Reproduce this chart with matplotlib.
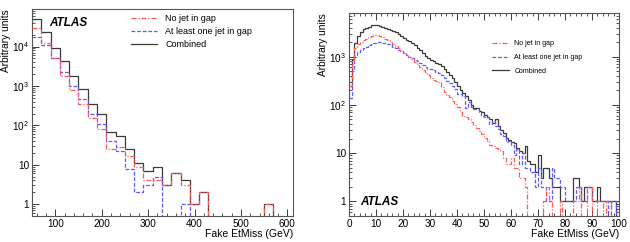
"""Fake EtMiss distributions, fine and coarse binning, ATLAS style."""

import numpy as np
import matplotlib
matplotlib.use("Agg")
import matplotlib.pyplot as plt
from matplotlib.ticker import FixedLocator, FuncFormatter, LogLocator, MultipleLocator, NullFormatter

plt.rcParams["font.family"] = ["Liberation Sans", "DejaVu Sans"]
plt.rcParams["mathtext.default"] = "regular"

labels = ["No jet in gap", "At least one jet in gap", "Combined"]

# left panel: 20 GeV bins from 50 to 610
left_edges = np.arange(50, 611, 20)
left_nojet = [30000, 12600, 5100, 1800, 770, 340, 150, 81, 25, 29, 17, 9, 4, 4,
              3, 6, 3, 1, 2, 0, 0, 0, 0, 0, 0, 1, 0, 0]
left_onejet = [18000, 10800, 5200, 2300, 1000, 480, 195, 110, 39, 22, 8, 2, 3, 5,
               0, 0, 1, 0, 0, 0, 0, 0, 0, 0, 0, 0, 0, 0]
left_comb = [50000, 23000, 9000, 4200, 1800, 820, 350, 195, 66, 55, 25, 11, 7, 9,
             3, 6, 4, 1, 2, 0, 0, 0, 0, 0, 0, 1, 0, 0]

# right panel: 1 GeV bins from 0 to 100
right_edges = np.arange(0, 101, 1)
right_nojet = [250, 850, 1500, 1850, 2000, 2250, 2370, 2570, 2700, 2770,
               2770, 2680, 2520, 2370, 2180, 2050, 1850, 1650, 1500, 1350,
               1200, 1100, 1000, 880, 780, 680, 600, 540, 470, 410,
               360, 330, 310, 295, 234, 183, 160, 144, 123, 105,
               89, 70, 60, 55, 51, 44, 38, 34, 29, 25,
               21, 18, 15, 14, 13, 12, 11, 8, 6, 6,
               8, 5, 5, 3, 3, 2, 0, 0, 0, 0,
               0, 0, 1, 2, 1, 0, 0, 0, 1, 0,
               0, 0, 0, 1, 1, 2, 0, 0, 2, 2,
               0, 0, 1, 1, 0, 1, 1, 0, 0, 0]
right_onejet = [140, 500, 1100, 1250, 1350, 1500, 1600, 1750, 1850, 1950,
                2000, 2000, 1950, 1900, 1800, 1700, 1600, 1500, 1400, 1300,
                1200, 1100, 1000, 920, 870, 800, 730, 680, 620, 560,
                560, 520, 490, 450, 410, 365, 320, 290, 245, 215,
                170, 170, 150, 85, 113, 89, 83, 83, 70, 60,
                55, 57, 40, 47, 37, 32, 25, 23, 17, 18,
                15, 9, 12, 6, 10, 5, 5, 4, 4, 2,
                5, 2, 2, 1, 1, 5, 3, 3, 2, 2,
                1, 1, 1, 1, 2, 2, 1, 1, 2, 2,
                1, 1, 1, 1, 1, 1, 0, 1, 1, 0]
right_comb = [250, 900, 1900, 2700, 3300, 3700, 4000, 4200, 4450, 4500,
              4450, 4300, 4100, 3900, 3800, 3600, 3350, 3200, 3000, 2700,
              2450, 2250, 2080, 1900, 1700, 1500, 1350, 1200, 1050, 940,
              860, 800, 750, 700, 640, 560, 480, 410, 360, 300,
              250, 205, 175, 150, 125, 100, 85, 85, 76, 70,
              62, 56, 51, 42, 52, 36, 30, 26, 21, 19,
              17, 16, 13, 11, 10, 14, 7, 6, 6, 4,
              9, 3, 5, 5, 3, 2, 2, 2, 1, 1,
              1, 1, 1, 3, 3, 2, 1, 2, 2, 2,
              1, 1, 2, 1, 1, 1, 1, 1, 1, 0]

red = "#ff5a5a"
blue = "#5a5aff"
black = "#3a3a3a"


def log_label(v, pos):
    if v == 1:
        return "1"
    if v == 10:
        return "10"
    return r"$10^{%d}$" % round(np.log10(v))


def draw_panel(ax, edges, nojet, onejet, comb):
    ax.stairs(comb, edges, baseline=None, color=black, lw=0.9, label=labels[2], zorder=2)
    ax.stairs(onejet, edges, baseline=None, color=blue, lw=0.9, ls=(0, (3, 1.5)),
              label=labels[1], zorder=3)
    ax.stairs(nojet, edges, baseline=None, color=red, lw=0.9, ls=(0, (4, 1.5, 1, 1.5)),
              label=labels[0], zorder=4)
    ax.set_yscale("log")
    ax.yaxis.set_major_locator(FixedLocator([1, 10, 100, 1000, 10000]))
    ax.yaxis.set_minor_locator(LogLocator(base=10, subs=np.arange(2, 10), numticks=20))
    ax.yaxis.set_major_formatter(FuncFormatter(log_label))
    ax.yaxis.set_minor_formatter(NullFormatter())
    ax.tick_params(which="both", direction="in", labelsize=7.2, color=black, pad=2)
    ax.tick_params(which="major", length=5, width=0.7)
    ax.tick_params(which="minor", length=2.5, width=0.6)
    for s in ax.spines.values():
        s.set_color("#555555")
        s.set_linewidth(0.8)
    ax.set_xlabel("Fake EtMiss (GeV)", fontsize=7.5, loc="right", labelpad=0)
    ax.set_ylabel("Arbitrary units", fontsize=7.3, loc="top", labelpad=1)


fig = plt.figure(figsize=(6.3, 2.42), dpi=100)

ax1 = fig.add_axes([32 / 630, 26 / 242, 261 / 630, 207 / 242])
draw_panel(ax1, left_edges, left_nojet, left_onejet, left_comb)
ax1.set_xlim(50, 612)
ax1.set_ylim(0.5, 9e4)
ax1.xaxis.set_major_locator(MultipleLocator(100))
ax1.xaxis.set_minor_locator(MultipleLocator(20))
ax1.text(0.065, 0.93, "ATLAS", transform=ax1.transAxes, fontsize=8.5,
         fontweight="bold", fontstyle="italic", va="center")
handles, labs = ax1.get_legend_handles_labels()
ax1.legend(handles[::-1], labs[::-1], loc="upper left",
           bbox_to_anchor=(131 / 630, 1 - 14 / 242),
           bbox_transform=fig.transFigure, frameon=False, fontsize=6.5,
           handlelength=2.9, handletextpad=0.9, labelspacing=0.45,
           borderpad=0, borderaxespad=0)

ax2 = fig.add_axes([349 / 630, 26 / 242, 270 / 630, 203 / 242])
draw_panel(ax2, right_edges, right_nojet, right_onejet, right_comb)
ax2.set_xlim(0, 100)
ax2.set_ylim(0.5, 8e3)
ax2.xaxis.set_major_locator(MultipleLocator(10))
ax2.xaxis.set_minor_locator(MultipleLocator(2))
ax2.tick_params(which="both", top=True, right=True)
ax2.text(0.04, 0.07, "ATLAS", transform=ax2.transAxes, fontsize=8.5,
         fontweight="bold", fontstyle="italic", va="center")
handles, labs = ax2.get_legend_handles_labels()
ax2.legend(handles[::-1], labs[::-1], loc="upper left",
           bbox_to_anchor=(492 / 630, 1 - 40 / 242),
           bbox_transform=fig.transFigure, frameon=False, fontsize=5,
           handlelength=2.5, handletextpad=0.7, labelspacing=1.0,
           borderpad=0, borderaxespad=0)

fig.savefig("out.png", dpi=100)
